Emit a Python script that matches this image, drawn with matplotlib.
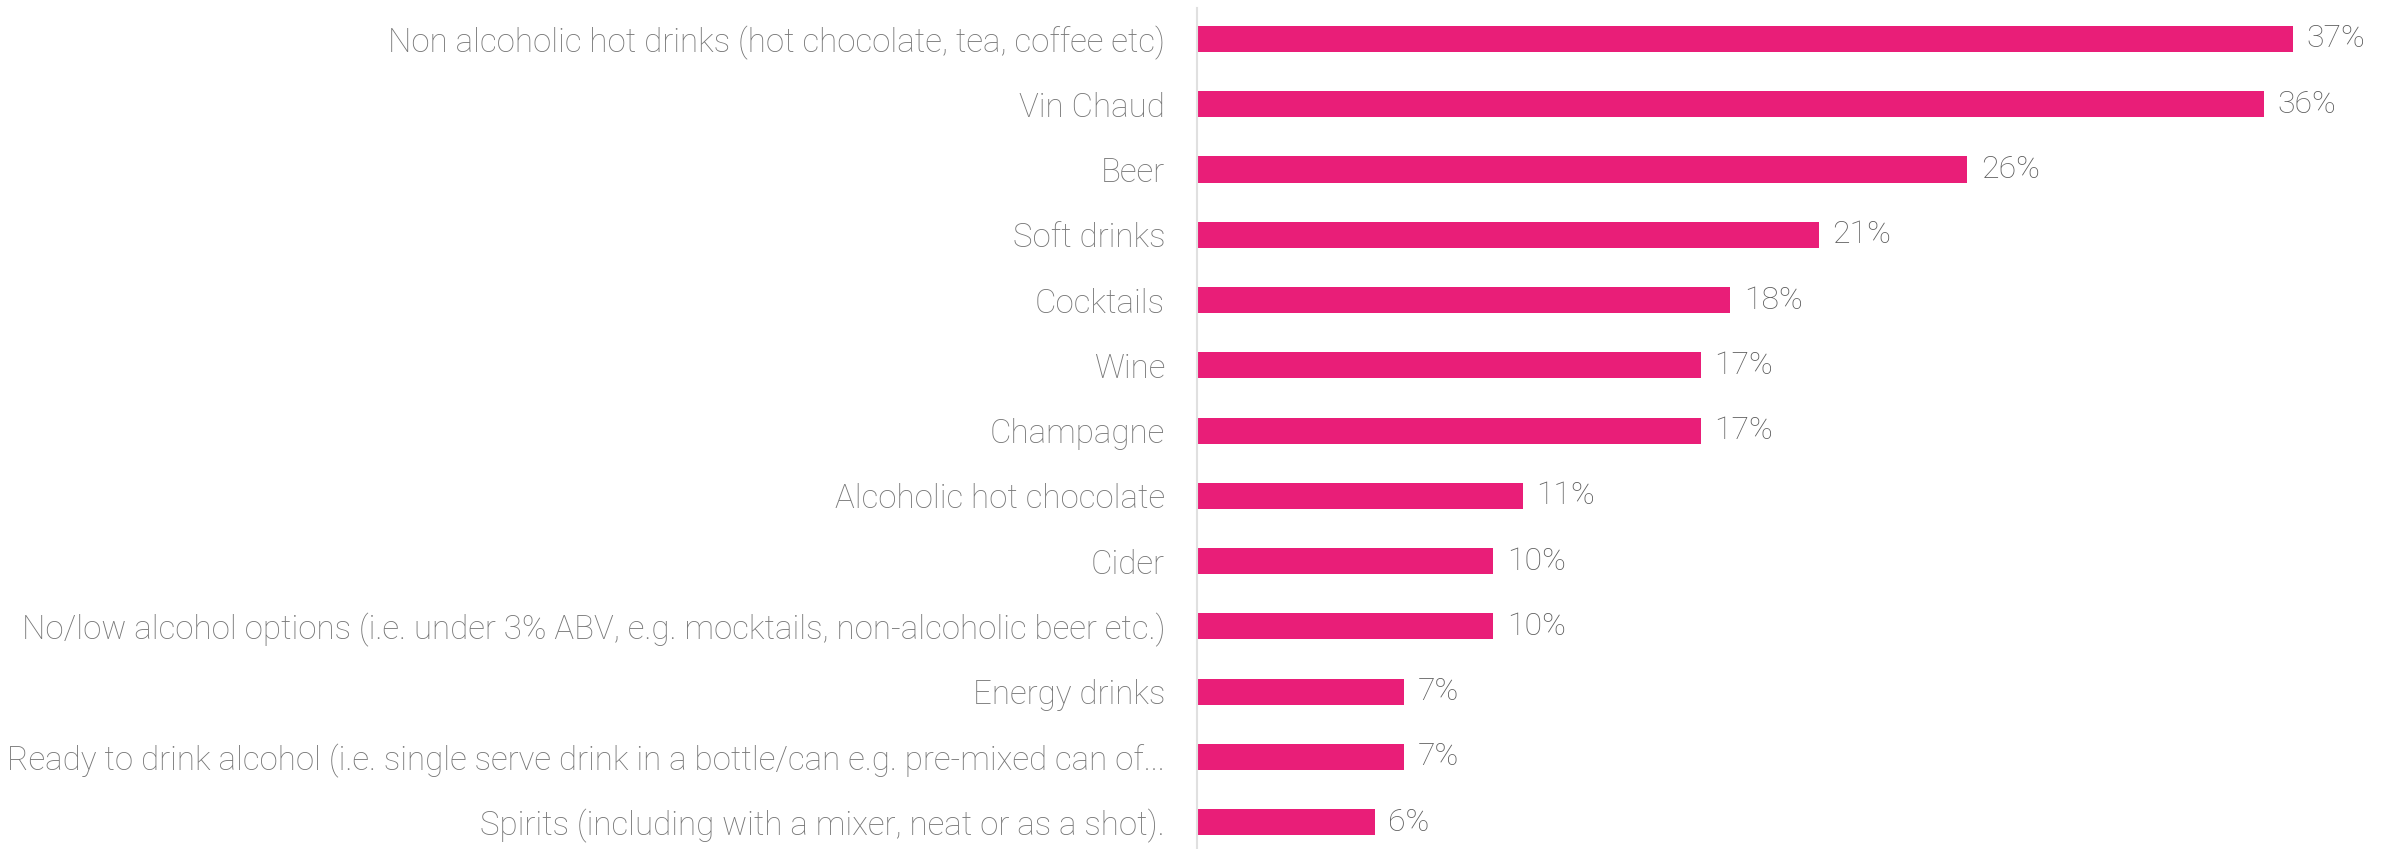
import matplotlib.pyplot as plt

# Drink categories and share of respondents (%)
drinks = [
    "Non alcoholic hot drinks (hot chocolate, tea, coffee etc)",
    "Vin Chaud",
    "Beer",
    "Soft drinks",
    "Cocktails",
    "Wine",
    "Champagne",
    "Alcoholic hot chocolate",
    "Cider",
    "No/low alcohol options (i.e. under 3% ABV, e.g. mocktails, non-alcoholic beer etc.)",
    "Energy drinks",
    "Ready to drink alcohol (i.e. single serve drink in a bottle/can e.g. pre-mixed can of...",
    "Spirits (including with a mixer, neat or as a shot).",
]
shares = [37, 36, 26, 21, 18, 17, 17, 11, 10, 10, 7, 7, 6]

BAR_COLOR = "#E91E78"
LABEL_COLOR = "#777777"
VALUE_COLOR = "#5e5e5e"

fig = plt.figure(figsize=(23.97, 8.49), dpi=100)
ax = fig.add_axes([0.4994, 0.0, 0.5006, 0.9906])

ypos = list(range(len(drinks)))
ax.barh(ypos, shares, height=0.4, color=BAR_COLOR)

# value labels to the right of each bar
for y, v in zip(ypos, shares):
    ax.text(v + 0.45, y, f"{v}%", va="center", ha="left",
            fontsize=23, color=VALUE_COLOR, family="Roboto", fontweight="light")

ax.set_xlim(0, 40.5)
ax.set_ylim(12.41, -0.475)
ax.set_yticks(ypos)
ax.set_yticklabels(drinks, fontsize=23.8, color=LABEL_COLOR,
                   family="Roboto", fontweight="light")
ax.tick_params(axis="y", length=0, pad=23)
ax.set_xticks([])

for side in ["top", "right", "bottom"]:
    ax.spines[side].set_visible(False)
ax.spines["left"].set_color("#e0e0e0")
ax.spines["left"].set_linewidth(1.5)

fig.savefig("out.png", dpi=100)
